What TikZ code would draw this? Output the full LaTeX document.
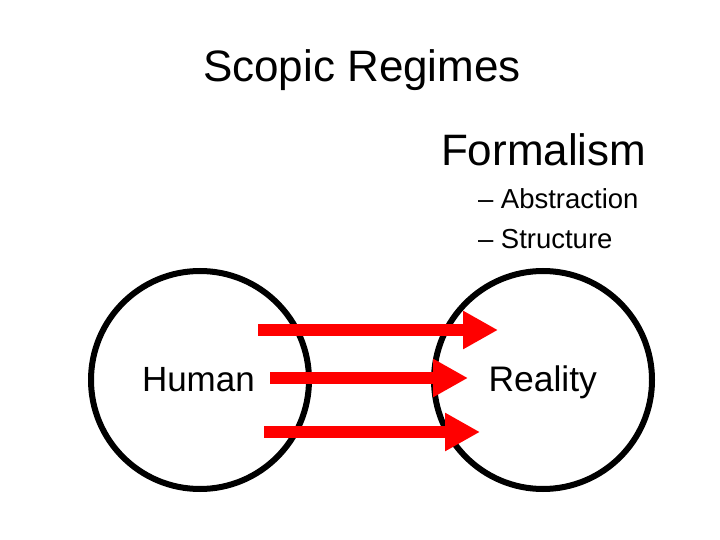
\documentclass[tikz,border=0pt]{standalone}
\usepackage{fontspec}
\setmainfont{Liberation Sans}
\usetikzlibrary{arrows.meta}
\begin{document}
\begin{tikzpicture}[x=1pt,y=-1pt,
  ring/.style={draw=black,line width=6pt},
  redarrow/.style={draw=red,line width=12.7pt,-{Triangle[length=35pt,width=36pt]}},
  txt/.style={anchor=base west,inner sep=0pt,outer sep=0pt}]
\useasboundingbox[fill=white] (0,0) rectangle (720,540);
\node[txt,font=\fontsize{44}{50}\selectfont] (title) at (203,81.5) {Scopic Regimes};
\node[txt,font=\fontsize{44}{50}\selectfont] (form) at (441,166) {Formalism};
\node[txt,font=\fontsize{27.5}{32}\selectfont] (abs) at (478,208.5) {– Abstraction};
\node[txt,font=\fontsize{27.5}{32}\selectfont] (str) at (478,248.5) {– Structure};
\node[ring,circle,minimum size=218pt,inner sep=0pt] (hc) at (200,380) {};
\node[ring,circle,minimum size=218pt,inner sep=0pt] (rc) at (543,380) {};
\node[txt,font=\fontsize{35}{40}\selectfont] (human) at (142,391.7) {Human};
\node[txt,font=\fontsize{35.5}{40}\selectfont] (reality) at (488.5,391.7) {Reality};
\coordinate (a1) at (258,330);
\coordinate (b1) at (498,330);
\coordinate (a2) at (270,378);
\coordinate (b2) at (468,378);
\coordinate (a3) at (264,432);
\coordinate (b3) at (480,432);
\draw[redarrow] (a1) -- (b1);
\draw[redarrow] (a2) -- (b2);
\draw[redarrow] (a3) -- (b3);
\end{tikzpicture}
\end{document}
